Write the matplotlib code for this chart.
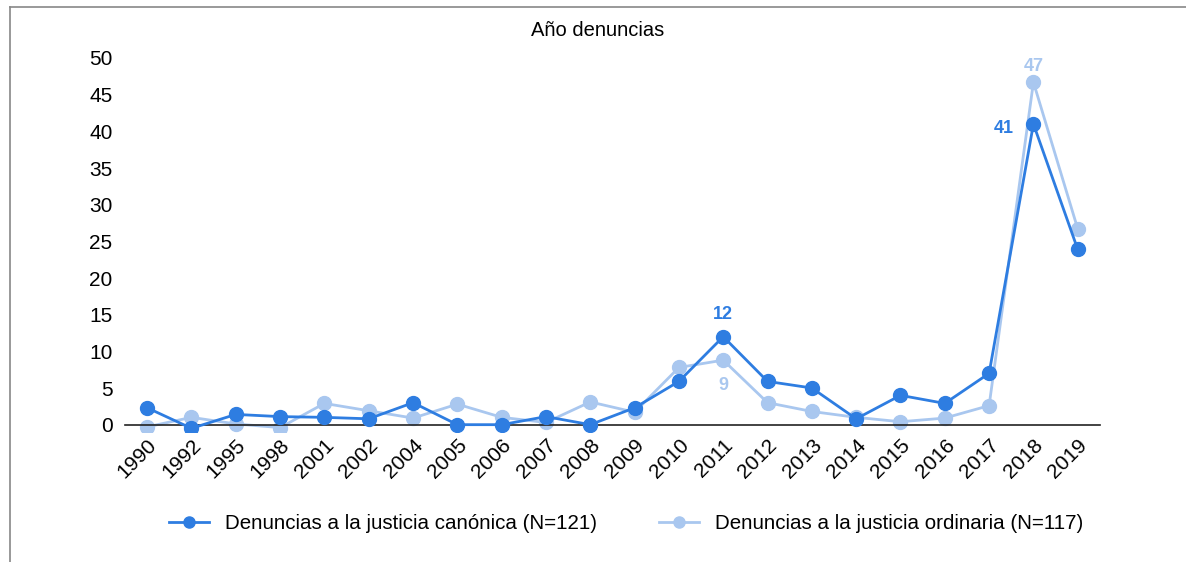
import matplotlib

matplotlib.use("Agg")
import matplotlib.pyplot as plt
from matplotlib.lines import Line2D

plt.rcParams["font.family"] = ["Liberation Sans", "DejaVu Sans"]

YEARS = ["1990", "1992", "1995", "1998", "2001", "2002", "2004", "2005", "2006", "2007", "2008",
         "2009", "2010", "2011", "2012", "2013", "2014", "2015", "2016", "2017", "2018", "2019"]
CANONICA = [2.3, -0.5, 1.4, 1.1, 1.0, 0.8, 3.0, 0.0, 0.0, 1.1, 0.0,
            2.3, 5.9, 12.0, 5.9, 5.0, 0.8, 4.0, 2.9, 7.0, 41.0, 23.9]
ORDINARIA = [-0.3, 1.0, 0.1, -0.4, 2.9, 1.9, 0.9, 2.8, 1.0, 0.3, 3.1,
             1.7, 7.8, 8.8, 3.0, 1.8, 1.0, 0.4, 0.9, 2.6, 46.7, 26.7]
Y_TICKS = [0, 5, 10, 15, 20, 25, 30, 35, 40, 45, 50]

LABEL_CANONICA = "Denuncias a la justicia canónica (N=121)"
LABEL_ORDINARIA = "Denuncias a la justicia ordinaria (N=117)"
DARK = "#2E7DE1"
LIGHT = "#A9C7EF"

fig = plt.figure(figsize=(11.86, 5.62), dpi=100)
ax = fig.add_axes([0.1054, 0.2313, 0.822, 0.6655])

# move the x axis line to y=0 first (set_position resets tick labels)
for side in ["top", "right", "left"]:
    ax.spines[side].set_visible(False)
ax.spines["bottom"].set_position(("data", 0))
ax.spines["bottom"].set_color("#222222")
ax.spines["bottom"].set_linewidth(1.2)

x = list(range(len(YEARS)))
ax.plot(x, CANONICA, color=DARK, lw=2, marker="o", ms=10, label=LABEL_CANONICA, zorder=3)
ax.plot(x, ORDINARIA, color=LIGHT, lw=2, marker="o", ms=10, label=LABEL_ORDINARIA, zorder=2)

ax.set_xlim(-0.5, len(YEARS) - 0.5)
ax.set_ylim(-1, 50)
ax.set_yticks(Y_TICKS)
ax.set_xticks(x)
ax.set_xticklabels(YEARS, rotation=45, ha="right", rotation_mode="anchor")
ax.tick_params(axis="both", length=0, labelsize=15)
ax.tick_params(axis="y", pad=9)
ax.tick_params(axis="x", pad=8)

i11 = YEARS.index("2011")
i18 = YEARS.index("2018")
ax.annotate(f"{CANONICA[i11]:.0f}", (i11, CANONICA[i11]), xytext=(0, 10), textcoords="offset points",
            ha="center", va="bottom", color=DARK, fontsize=13, fontweight="bold")
ax.annotate(f"{ORDINARIA[i11]:.0f}", (i11, ORDINARIA[i11]), xytext=(0, -12), textcoords="offset points",
            ha="center", va="top", color=LIGHT, fontsize=13, fontweight="bold")
ax.annotate(f"{CANONICA[i18]:.0f}", (i18, CANONICA[i18]), xytext=(-14, -3), textcoords="offset points",
            ha="right", va="center", color=DARK, fontsize=13, fontweight="bold")
ax.annotate(f"{ORDINARIA[i18]:.0f}", (i18, ORDINARIA[i18]), xytext=(0, 5), textcoords="offset points",
            ha="center", va="bottom", color=LIGHT, fontsize=13, fontweight="bold")

fig.text(0.504, 0.945, "Año denuncias", ha="center", va="center", fontsize=14.5)

fig.legend(loc="center", bbox_to_anchor=(0.528, 0.068), ncol=2, frameon=False, fontsize=14.8,
           handlelength=1.95, handletextpad=0.8, columnspacing=3.0, markerscale=0.8)

# thin frame around the figure (left and top)
fig.add_artist(Line2D([0.0085, 0.0085], [0, 0.988], color="#888888", lw=1.2, transform=fig.transFigure))
fig.add_artist(Line2D([0.0085, 1.0], [0.988, 0.988], color="#888888", lw=1.2, transform=fig.transFigure))

fig.savefig("out.png", dpi=100)
